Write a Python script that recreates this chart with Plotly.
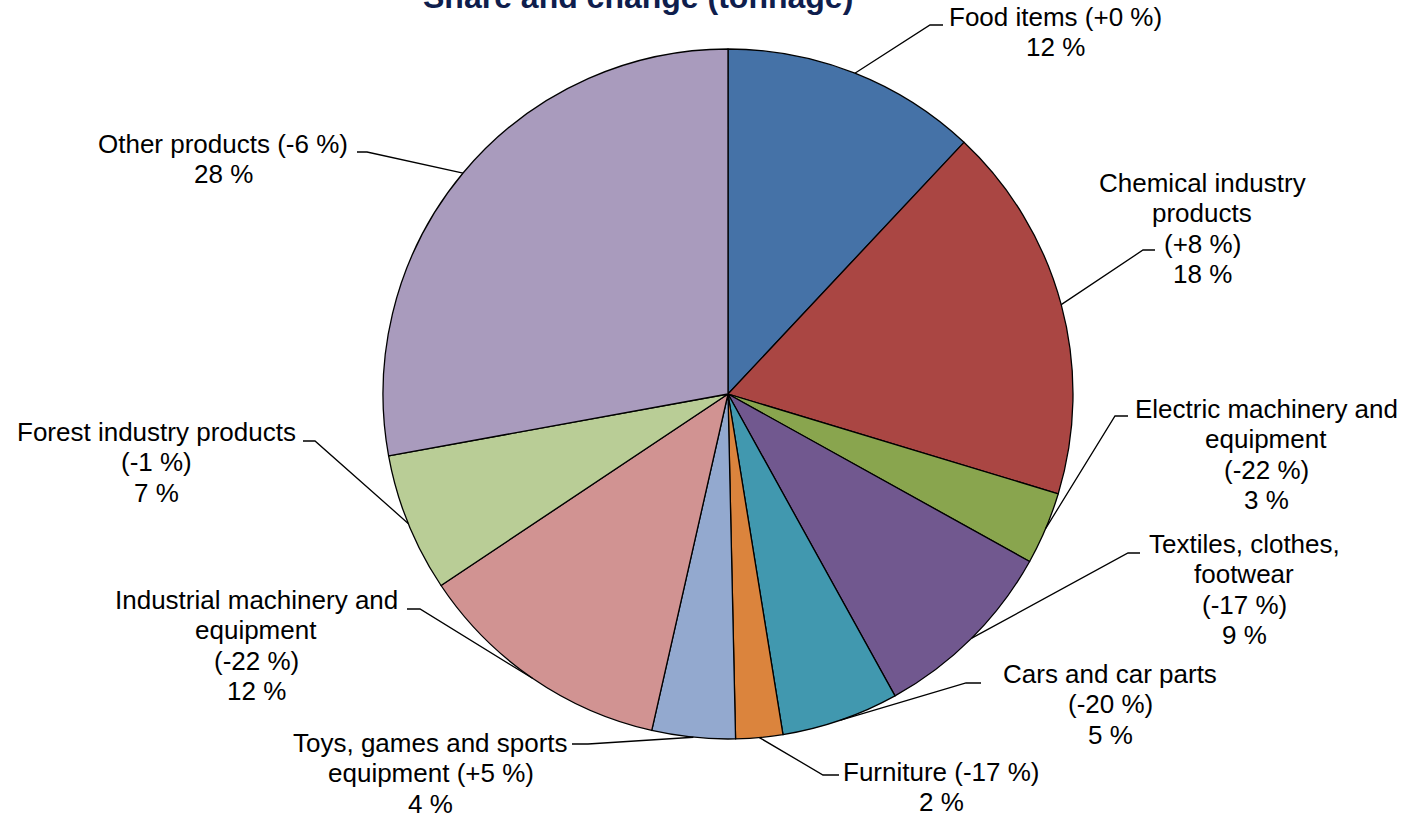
import math
import plotly.graph_objects as go

# ---------------- data ----------------
categories = ["Food items", "Chemical industry products", "Electric machinery and equipment",
              "Textiles, clothes, footwear", "Cars and car parts", "Furniture",
              "Toys, games and sports equipment", "Industrial machinery and equipment",
              "Forest industry products", "Other products"]
share_values = [12.0, 17.7, 3.4, 8.9, 5.5, 2.2, 3.9, 12.1, 6.5, 27.9]
change_labels = ["+0 %", "+8 %", "-22 %", "-17 %", "-20 %", "-17 %", "+5 %", "-22 %", "-1 %", "-6 %"]
share_labels = ["12 %", "18 %", "3 %", "9 %", "5 %", "2 %", "4 %", "12 %", "7 %", "28 %"]
label_lines = [
    ["Food items (+0 %)", "12 %"],
    ["Chemical industry", "products", "(+8 %)", "18 %"],
    ["Electric machinery and", "equipment", "(-22 %)", "3 %"],
    ["Textiles, clothes,", "footwear", "(-17 %)", "9 %"],
    ["Cars and car parts", "(-20 %)", "5 %"],
    ["Furniture (-17 %)", "2 %"],
    ["Toys, games and sports", "equipment (+5 %)", "4 %"],
    ["Industrial machinery and", "equipment", "(-22 %)", "12 %"],
    ["Forest industry products", "(-1 %)", "7 %"],
    ["Other products (-6 %)", "28 %"],
]
colors = ["#4572A7", "#AA4643", "#89A54E", "#71588F", "#4198AF",
          "#DB843D", "#93A9CF", "#D19392", "#B9CD96", "#A99BBD"]
title_text = "Share and change (tonnage)"

# ---------------- layout geometry (screen pixels) ----------------
W, H = 1414, 815
CX, CY, R = 728, 394, 345
FS = 26
LINE_H = 30.5
# label block: (center x, first baseline y)
label_pos = [(1055, 26), (1202, 192), (1266, 418), (1244, 553), (1110, 683),
             (941, 781), (431, 752), (256, 609), (156, 441), (223, 153)]
# leader: elbow point and stub end point
leader_elbow = [(930, 25), (1143, 250), (1115, 416), (1128, 553), (966, 683),
                (823, 775), (588, 744), (420, 609), (315, 441), (367, 152)]
leader_end = [(943, 25), (1155, 250), (1128, 416), (1140, 553), (981, 683),
              (839, 775), (572, 744), (407, 609), (303, 441), (357, 152)]


def px(x, y):
    return x / W, 1 - y / H


fig = go.Figure(go.Pie(
    labels=categories, values=share_values, sort=False, direction="clockwise",
    rotation=0, textinfo="none", hoverinfo="label+percent",
    marker=dict(colors=colors, line=dict(color="black", width=1.3)),
    domain=dict(x=[(CX - R) / W, (CX + R) / W],
                y=[1 - (CY + R) / H, 1 - (CY - R) / H]),
    showlegend=False,
))

annotations = []
shapes = []
total = sum(share_values)
cum = 0.0
for i, v in enumerate(share_values):
    mid = (cum + v / 2) / total * 2 * math.pi
    cum += v
    sx = CX + R * math.sin(mid)
    sy = CY - R * math.cos(mid)
    ex, ey = leader_elbow[i]
    tx, ty = leader_end[i]
    p0, p1, p2 = px(sx, sy), px(ex, ey), px(tx, ty)
    shapes.append(dict(type="path", xref="paper", yref="paper",
                       path=f"M {p0[0]},{p0[1]} L {p1[0]},{p1[1]} L {p2[0]},{p2[1]}",
                       line=dict(color="black", width=1.3)))
    lx, ly = label_pos[i]
    for k, line in enumerate(label_lines[i]):
        b = ly + k * LINE_H
        cx_, cy_ = px(lx, b - 0.3465 * FS)
        annotations.append(dict(x=cx_, y=cy_, xref="paper", yref="paper", text=line,
                                showarrow=False, xanchor="center", yanchor="middle",
                                font=dict(family="Arial, Liberation Sans", size=FS, color="black")))

# title (partly cut at top)
TFS = 32
tx_, ty_ = px(638, 8 - 0.3465 * TFS)
annotations.append(dict(x=tx_, y=ty_, xref="paper", yref="paper",
                        text=f"<b>{title_text}</b>", showarrow=False,
                        xanchor="center", yanchor="middle",
                        font=dict(family="Arial, Liberation Sans", size=TFS, color="#0F1E4D")))

fig.update_layout(width=W, height=H, margin=dict(l=0, r=0, t=0, b=0),
                  paper_bgcolor="white", plot_bgcolor="white",
                  annotations=annotations, shapes=shapes)
fig.write_html("out.html", config={"displayModeBar": False},
               post_script="document.body.style.margin='0';")
